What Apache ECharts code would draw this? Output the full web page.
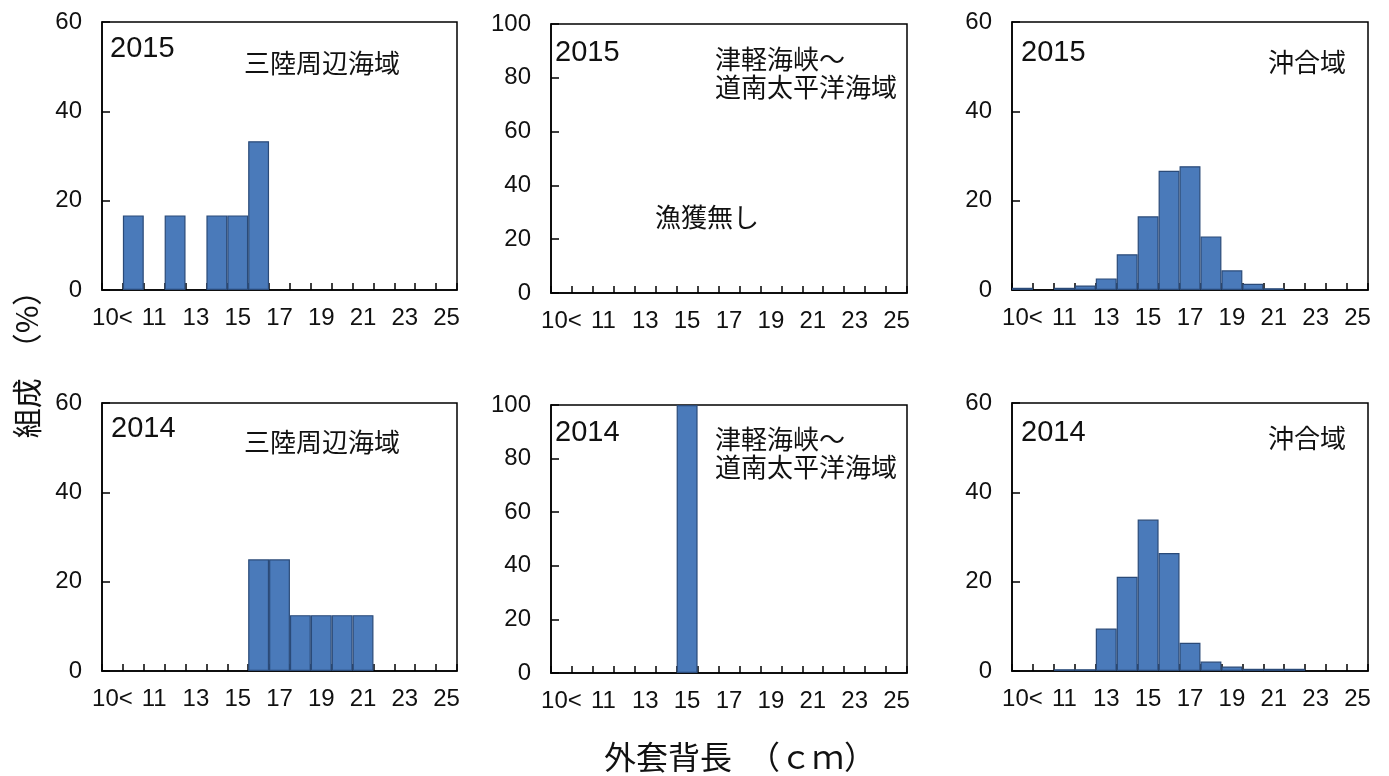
<!DOCTYPE html>
<html><head><meta charset="utf-8">
<script src="https://cdn.jsdelivr.net/npm/echarts@6/dist/echarts.min.js"></script>
<style>html,body{margin:0;padding:0;background:#fff}#c{width:1389px;height:776px}</style>
</head><body><div id="c"></div>
<script>
// Categories (外套背長, cm)
const categories = ['10<','10','11','12','13','14','15','16','17','18','19','20','21','22','23','24','25'];
// Composition (%) per panel
const sanriku2015 = [0,16.7,0,16.7,0,16.7,16.7,33.3,0,0,0,0,0,0,0,0,0];
const tsugaru2015 = [0,0,0,0,0,0,0,0,0,0,0,0,0,0,0,0,0];
const oki2015     = [0.5,0,0.5,1.0,2.6,8.0,16.5,26.7,27.7,12.0,4.4,1.4,0.4,0,0,0,0];
const sanriku2014 = [0,0,0,0,0,0,0,25,25,12.5,12.5,12.5,12.5,0,0,0,0];
const tsugaru2014 = [0,0,0,0,0,0,100,0,0,0,0,0,0,0,0,0,0];
const oki2014     = [0,0,0.4,0.4,9.5,21.1,33.9,26.4,6.3,2.1,1.0,0.5,0.5,0.5,0,0,0];
const yMaxes = [60,100,60,60,100,60];
const yearLabels = ['2015','2015','2015','2014','2014','2014'];
const areaLabels = ['三陸周辺海域','津軽海峡～\n道南太平洋海域','沖合域','三陸周辺海域','津軽海峡～\n道南太平洋海域','沖合域'];
const noCatchLabel = '漁獲無し';
const xTitle = '外套背長　（ｃｍ）';
const yTitle = '組成　（%）';

const panels = [sanriku2015, tsugaru2015, oki2015, sanriku2014, tsugaru2014, oki2014];
const grids = [
  {left:102, top:22, width:355, height:268},
  {left:551, top:24, width:356, height:269},
  {left:1012, top:22, width:356, height:268},
  {left:102, top:403, width:355, height:268},
  {left:551, top:405, width:356, height:268},
  {left:1012, top:403, width:356, height:268}
];
const NUM_FONT = '"Liberation Sans", Arial, sans-serif';
const JP_FONT = '"Noto Sans CJK JP", sans-serif';

const option = {
  animation:false,
  backgroundColor:'#fff',
  grid: grids.map(g => Object.assign({show:true, borderColor:'#000', borderWidth:1.5, backgroundColor:'transparent'}, g)),
  xAxis: grids.map((g,i) => ({
    type:'category', gridIndex:i, data:categories, boundaryGap:true,
    axisLine:{show:true, lineStyle:{color:'#000', width:1.5}},
    axisTick:{show:true, inside:true, length:7, interval:0, lineStyle:{color:'#000', width:1.5}},
    axisLabel:{interval:1, color:'#111', fontFamily:NUM_FONT, fontSize:24, margin:16},
    splitLine:{show:false}
  })),
  yAxis: grids.map((g,i) => ({
    type:'value', gridIndex:i, min:0, max:yMaxes[i], interval:20,
    axisLine:{show:true, lineStyle:{color:'#000', width:1.5}},
    axisTick:{show:true, inside:true, length:8, lineStyle:{color:'#000', width:1.5}},
    axisLabel:{color:'#111', fontFamily:NUM_FONT, fontSize:24, margin:20},
    splitLine:{show:false}
  })),
  series: panels.map((arr,i) => ({
    type:'bar', xAxisIndex:i, yAxisIndex:i,
    data: arr.map(v => v === 0 ? '-' : v),
    barCategoryGap:'0%',
    itemStyle:{color:'#4a7aba', borderColor:'#2a4a78', borderWidth:1.2}
  })),
  graphic: []
};

const yearPos = [[110,49],[555,53],[1021,53],[111,429],[555,433],[1021,433]];
const areaPos = [[322,63,'center'],[715,59,'left'],[1307,62,'center'],[322,442,'center'],[715,439,'left'],[1307,438,'center']];
yearLabels.forEach((t,i) => {
  option.graphic.push({type:'text', x:yearPos[i][0], y:yearPos[i][1], style:{text:t, font:'29px '+NUM_FONT, fill:'#111', align:'left', verticalAlign:'middle'}});
});
areaLabels.forEach((t,i) => {
  const p = areaPos[i];
  option.graphic.push({type:'text', x:p[0], y:p[1]-14, style:{text:t, font:'26px '+JP_FONT, fill:'#111', align:p[2], verticalAlign:'top', lineHeight:28}});
});
option.graphic.push({type:'text', x:707, y:217, style:{text:noCatchLabel, font:'26px '+JP_FONT, fill:'#111', align:'center', verticalAlign:'middle'}});
option.graphic.push({type:'text', x:740, y:757, style:{text:xTitle, font:'32px '+JP_FONT, fill:'#111', align:'center', verticalAlign:'middle'}});
option.graphic.push({type:'text', x:27, y:357, rotation:Math.PI/2, style:{text:yTitle, font:'30px '+JP_FONT, fill:'#111', align:'center', verticalAlign:'middle'}});

const chart = echarts.init(document.getElementById('c'), null, {renderer:'canvas'});
chart.setOption(option);
</script>
</body></html>
